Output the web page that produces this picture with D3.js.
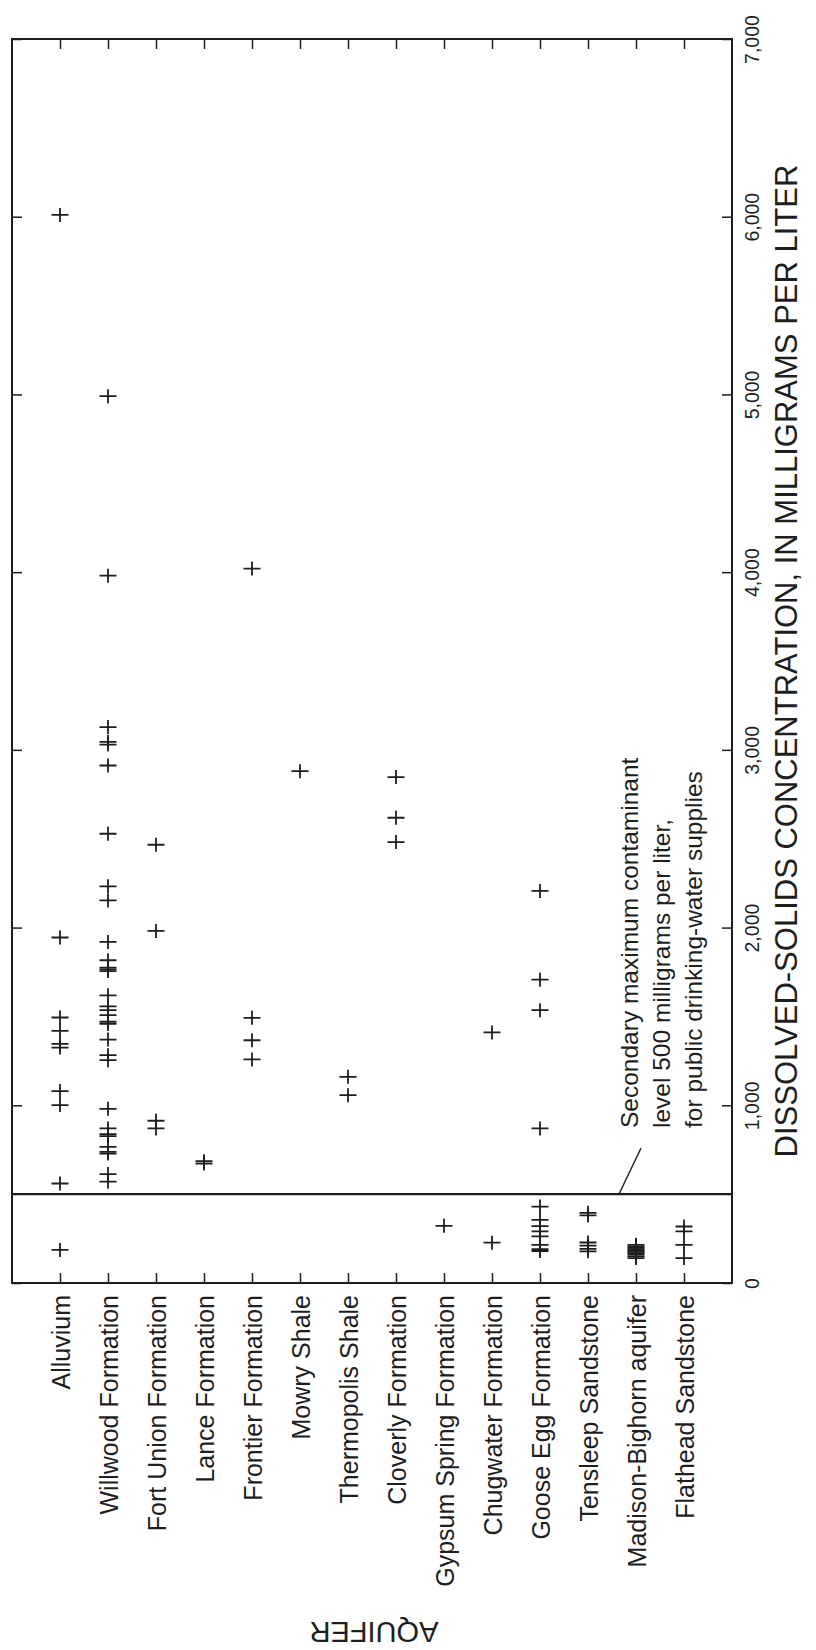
<!DOCTYPE html>
<html>
<head>
<meta charset="utf-8">
<script src="https://cdn.jsdelivr.net/npm/d3@7/dist/d3.min.js"></script>
<style>
  body { margin: 0; background: #fff; }
  svg { display: block; }
</style>
</head>
<body>
<script>
// aquifers, in plot order
var aquifers = ["Alluvium", "Willwood Formation", "Fort Union Formation", "Lance Formation",
  "Frontier Formation", "Mowry Shale", "Thermopolis Shale", "Cloverly Formation",
  "Gypsum Spring Formation", "Chugwater Formation", "Goose Egg Formation",
  "Tensleep Sandstone", "Madison-Bighorn aquifer", "Flathead Sandstone"];

// dissolved solids, mg/L
var alluvium = [6010, 1944, 1494, 1419, 1345, 1325, 1080, 1001, 560, 186];
var willwood = [4990, 3980, 3128, 3045, 3030, 2912, 2528, 2232, 2153, 1919, 1816, 1775, 1765,
  1755, 1619, 1557, 1535, 1507, 1470, 1458, 1370, 1282, 1254, 980, 870, 838, 826, 766, 738,
  728, 613, 570];
var fortUnion = [2466, 1981, 913, 870];
var lance = [685, 672];
var frontier = [4020, 1492, 1366, 1258];
var mowry = [2880];
var thermopolis = [1160, 1057];
var cloverly = [2847, 2618, 2481];
var gypsumSpring = [322];
var chugwater = [1410, 227];
var gooseEgg = [2206, 1707, 1535, 870, 430, 355, 320, 290, 262, 215, 190, 180];
var tensleep = [395, 380, 228, 210, 192, 178];
var madison = [215, 205, 198, 190, 182, 175, 168, 160, 150, 140];
var flathead = [318, 290, 214, 140];

var samples = [alluvium, willwood, fortUnion, lance, frontier, mowry, thermopolis, cloverly,
  gypsumSpring, chugwater, gooseEgg, tensleep, madison, flathead];

var valueTicks = [0, 1000, 2000, 3000, 4000, 5000, 6000, 7000];
var smcl = 500;
var noteLines = ["Secondary maximum contaminant", "level 500 milligrams per liter,",
  "for public drinking-water supplies"];

(function() {

  var ink = "#1e1e1e";
  var font = "'Liberation Sans', Arial, Helvetica, sans-serif";

  var svg = d3.select("body").append("svg")
    .attr("width", 816)
    .attr("height", 1650);

  var pl = 12, pr = 732, pt = 39, pb = 1283; // plot frame

  var x = d3.scalePoint().domain(aquifers).range([pl, pr]).padding(1);
  var y = d3.scaleLinear().domain([0, 7000]).range([pb, pt]);

  var points = [];
  samples.forEach(function(vals, i) {
    vals.forEach(function(v) {
      points.push({ aquifer: aquifers[i], value: v });
    });
  });

  // frame
  svg.append("rect")
    .attr("x", pl).attr("y", pt)
    .attr("width", pr - pl).attr("height", pb - pt)
    .attr("fill", "none").attr("stroke", ink).attr("stroke-width", 2);

  // category axis (bottom, with labels) and its mirror on top
  var catAxis = svg.append("g")
    .attr("transform", "translate(0," + pb + ")")
    .call(d3.axisBottom(x).tickSize(-10).tickSizeOuter(0));
  catAxis.select(".domain").remove();
  catAxis.selectAll("line").attr("stroke", ink).attr("stroke-width", 1.5);
  catAxis.selectAll("text")
    .attr("x", 0).attr("y", 0).attr("dy", null)
    .attr("transform", "translate(9,12) rotate(-90)")
    .attr("text-anchor", "end")
    .attr("fill", ink)
    .style("font-family", font)
    .style("font-size", "25px");

  var catTop = svg.append("g")
    .attr("transform", "translate(0," + pt + ")")
    .call(d3.axisTop(x).tickSize(-10).tickSizeOuter(0).tickFormat(""));
  catTop.select(".domain").remove();
  catTop.selectAll("line").attr("stroke", ink).attr("stroke-width", 1.5);

  // value axis (right, with labels) and its mirror on the left
  var valAxis = svg.append("g")
    .attr("transform", "translate(" + pr + ",0)")
    .call(d3.axisRight(y).tickValues(valueTicks).tickSize(-10).tickSizeOuter(0)
      .tickFormat(d3.format(",")));
  valAxis.select(".domain").remove();
  valAxis.selectAll("line").attr("stroke", ink).attr("stroke-width", 1.5);
  valAxis.selectAll("text")
    .attr("x", 0).attr("y", 0).attr("dy", null)
    .attr("transform", "translate(27,0) rotate(-90)")
    .attr("text-anchor", "middle")
    .attr("fill", ink)
    .style("font-family", font)
    .style("font-size", "19.5px");

  var valLeft = svg.append("g")
    .attr("transform", "translate(" + pl + ",0)")
    .call(d3.axisLeft(y).tickValues(valueTicks).tickSize(-10).tickSizeOuter(0).tickFormat(""));
  valLeft.select(".domain").remove();
  valLeft.selectAll("line").attr("stroke", ink).attr("stroke-width", 1.5);

  // 500 mg/L line and its note
  svg.append("line")
    .attr("x1", pl).attr("x2", pr)
    .attr("y1", y(smcl)).attr("y2", y(smcl))
    .attr("stroke", ink).attr("stroke-width", 2.2);

  svg.append("line")
    .attr("x1", 619).attr("y1", y(smcl))
    .attr("x2", 641).attr("y2", y(smcl) - 46)
    .attr("stroke", ink).attr("stroke-width", 1.3);

  svg.append("g").selectAll("text")
    .data(noteLines).enter().append("text")
    .attr("transform", function(d, i) {
      return "translate(" + (638 + i * 32) + ",1128) rotate(-90)";
    })
    .attr("text-anchor", "start")
    .attr("fill", ink)
    .style("font-family", font)
    .style("font-size", "24.5px")
    .text(function(d) { return d; });

  // plus markers
  svg.append("g").selectAll("path")
    .data(points).enter().append("path")
    .attr("transform", function(d) {
      return "translate(" + x(d.aquifer) + "," + y(d.value) + ")";
    })
    .attr("d", "M-8.5,0H8.5M0,-7V7")
    .attr("fill", "none")
    .attr("stroke", ink)
    .attr("stroke-width", 1.8);

  // axis titles
  svg.append("text")
    .attr("transform", "translate(797," + ((pt + pb) / 2) + ") rotate(-90)")
    .attr("text-anchor", "middle")
    .attr("fill", ink)
    .style("font-family", font)
    .style("font-size", "31px")
    .text("DISSOLVED-SOLIDS CONCENTRATION, IN MILLIGRAMS PER LITER");

  svg.append("text")
    .attr("transform", "translate(" + ((pl + pr) / 2 + 2) + ",1622) rotate(180)")
    .attr("text-anchor", "middle")
    .attr("fill", ink)
    .style("font-family", font)
    .style("font-size", "29px")
    .text("AQUIFER");

})();
</script>
</body>
</html>
